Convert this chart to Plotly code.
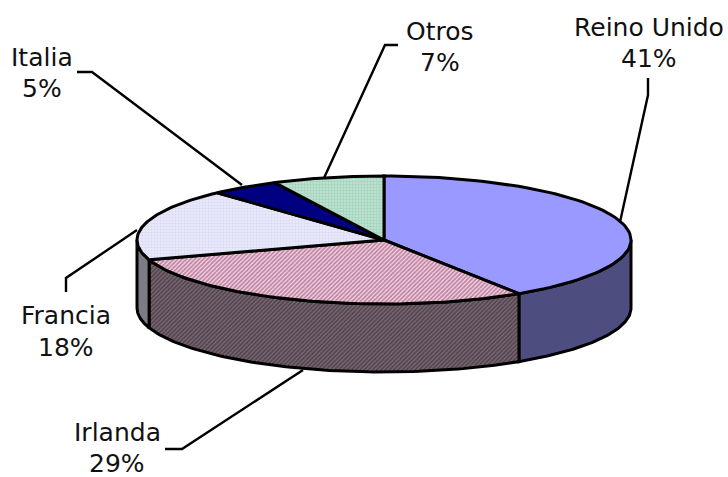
import math
import plotly.graph_objects as go

labels = ["Reino Unido", "Irlanda", "Francia", "Italia", "Otros"]
values = [40.8, 29.2, 18.2, 4.5, 7.3]
percent_labels = ["41%", "29%", "18%", "5%", "7%"]

# styles per slice
top_styles = [
    dict(fillcolor="#9999ff"),
    dict(fillcolor="#d8a0bc", fillpattern=dict(shape="/", fgcolor="#8c2c5c", bgcolor="#f4dce8", size=3, solidity=0.6)),
    dict(fillcolor="#e8e8f8", fillpattern=dict(shape=".", fgcolor="#c8c8f0", bgcolor="#eeeefa", size=3, solidity=0.55)),
    dict(fillcolor="#000080"),
    dict(fillcolor="#a8d8c0", fillpattern=dict(shape=".", fgcolor="#82c4a4", bgcolor="#c4e4d4", size=3, solidity=0.55)),
]
side_styles = [
    dict(fillcolor="#4d4d80"),
    dict(fillcolor="#604858", fillpattern=dict(shape="/", fgcolor="#40142c", bgcolor="#747074", size=3, solidity=0.6)),
    dict(fillcolor="#7c7c86"),
    None,
    None,
]

# ellipse geometry in page pixels
CX, CY, RX, RY, DEPTH = 384, 240, 247, 64, 68
LW = 3

label_pos = [(649, 27, 58), (117, 432, 463), (66, 315, 347), (42, 57, 88), (440, 31, 62)]
leaders = [
    [(620, 222), (648, 95), (648, 78)],
    [(303, 370), (182, 449), (165, 449)],
    [(137, 230), (66, 278), (66, 292)],
    [(242, 185), (92, 72), (77, 72)],
    [(324, 178), (385, 45), (398, 45)],
]


def pt(theta, dy=0):
    r = math.radians(theta)
    return CX + RX * math.sin(r), CY - RY * math.cos(r) + dy


def arc(a, b, dy=0, n=80):
    return [pt(a + (b - a) * i / n, dy) for i in range(n + 1)]


fig = go.Figure()
total = sum(values)
bounds = [0]
for v in values:
    bounds.append(bounds[-1] + v / total * 360)

# side walls
for i, style in enumerate(side_styles):
    a, b = max(bounds[i], 90), min(bounds[i + 1], 270)
    if style is None or a >= b:
        continue
    poly = arc(a, b) + arc(b, a, DEPTH)
    poly.append(poly[0])
    fig.add_trace(go.Scatter(x=[p[0] for p in poly], y=[p[1] for p in poly], mode="lines",
                             fill="toself", line=dict(color="black", width=LW),
                             hoverinfo="skip", showlegend=False, name=labels[i], **style))

# top wedges
for i, style in enumerate(top_styles):
    poly = [(CX, CY)] + arc(bounds[i], bounds[i + 1]) + [(CX, CY)]
    fig.add_trace(go.Scatter(x=[p[0] for p in poly], y=[p[1] for p in poly], mode="lines",
                             fill="toself", line=dict(color="black", width=LW),
                             hoverinfo="skip", showlegend=False, name=labels[i], **style))

# leader lines
for path in leaders:
    fig.add_trace(go.Scatter(x=[p[0] for p in path], y=[p[1] for p in path], mode="lines",
                             line=dict(color="black", width=2.4), hoverinfo="skip", showlegend=False))

font = dict(family="DejaVu Sans", size=25, color="#111111")
for name, pct, (x, y1, y2) in zip(labels, percent_labels, label_pos):
    fig.add_annotation(x=x, y=y1, text=name, showarrow=False, font=font, xanchor="center", yanchor="middle")
    fig.add_annotation(x=x, y=y2, text=pct, showarrow=False, font=font, xanchor="center", yanchor="middle")

fig.update_layout(
    width=728, height=477, margin=dict(l=0, r=0, t=0, b=0),
    paper_bgcolor="white", plot_bgcolor="white",
    xaxis=dict(range=[0, 728], visible=False, fixedrange=True),
    yaxis=dict(range=[477, 0], visible=False, fixedrange=True),
)
fig.write_html("out.html", config=dict(displayModeBar=False),
               post_script="document.body.style.margin='0';")
